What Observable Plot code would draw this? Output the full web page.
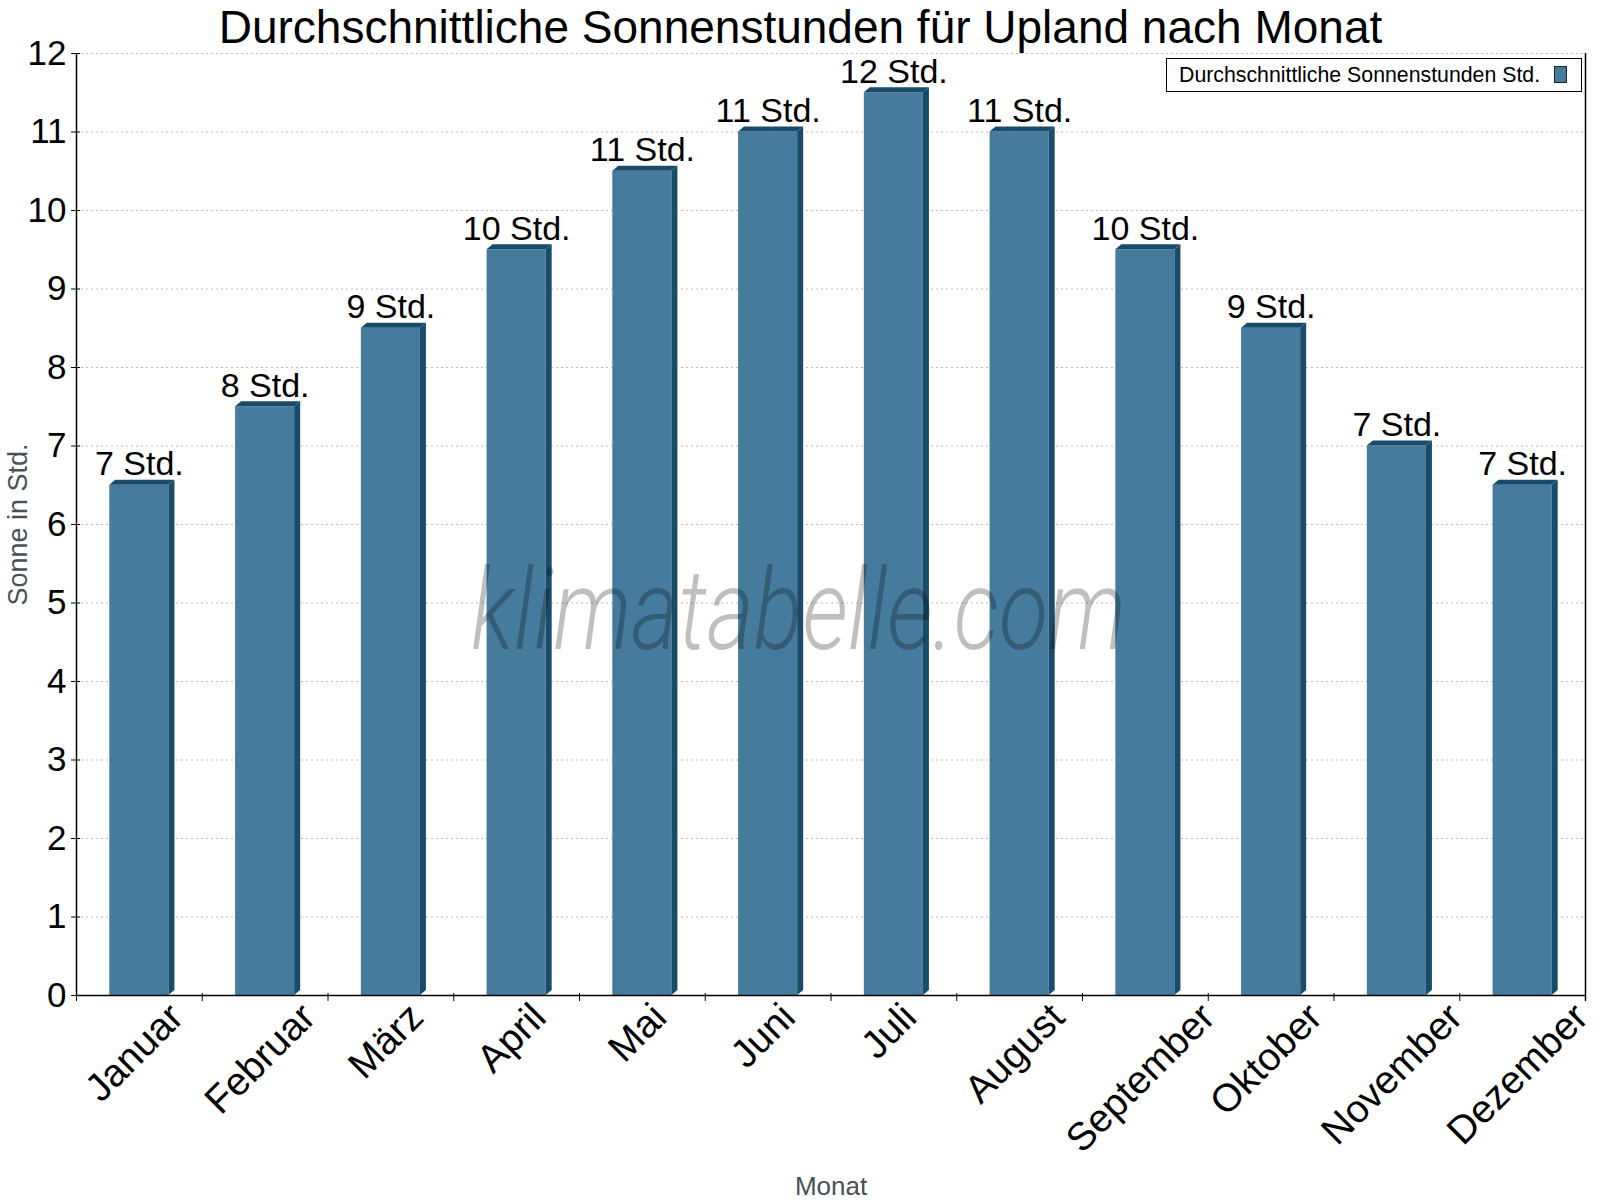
<!DOCTYPE html>
<html>
<head>
<meta charset="utf-8">
<script src="https://cdn.jsdelivr.net/npm/d3@7"></script>
<script src="https://cdn.jsdelivr.net/npm/@observablehq/plot@0.6"></script>
<style>
  body { margin: 0; background: #fff; }
  #wrap { position: relative; width: 1600px; height: 1200px; }
  #legend { position: absolute; left: 1166px; top: 58px; width: 414px; height: 32px;
            border: 1.5px solid #000; background: #fff;
            font-family: "Liberation Sans", Arial, sans-serif; font-size: 21.3px; color: #000; }
  #legend .txt { position: absolute; left: 12px; top: 0; line-height: 32px; white-space: nowrap; }
  #legend .sw { position: absolute; left: 387px; top: 7px; width: 11px; height: 15px;
                border: 1px solid #222; }
</style>
</head>
<body>
<div id="wrap"></div>
<script>
// ---- data ----
const months = ["Januar","Februar","März","April","Mai","Juni","Juli","August","September","Oktober","November","Dezember"];
const sunHours = [6.5, 7.5, 8.5, 9.5, 10.5, 11, 11.5, 11, 9.5, 8.5, 7, 6.5];
const labelHours = [7, 8, 9, 10, 11, 11, 12, 11, 10, 9, 7, 7];
const yTicks = [0,1,2,3,4,5,6,7,8,9,10,11,12];
const titleText = "Durchschnittliche Sonnenstunden für Upland nach Monat";
const yLabelText = "Sonne in Std.";
const xLabelText = "Monat";
const legendText = "Durchschnittliche Sonnenstunden Std.";
const watermarkText = "klimatabelle.com";
const unit = "Std.";

// ---- styles ----
const FRONT = "#467b9d";
const DARK = "#194b6b";
const FONT = "'Liberation Sans', Arial, sans-serif";
const W = 1600, H = 1200, ML = 76, MR = 15, MT = 53, MB = 205;
const step = (W - ML - MR) / months.length;
const frameCx = ML + (W - ML - MR) / 2;
const frameCy = MT + (H - MT - MB) / 2;
const DX3 = 6, DY3 = 5;

const data = months.map((m, i) => ({month: m, value: sunHours[i], label: `${labelHours[i]} ${unit}`}));

// measure text widths for rotated tick labels
const ctx = document.createElement("canvas").getContext("2d");
const XFS = 39;
ctx.font = `${XFS}px 'Liberation Sans'`;

function bars3d(index, scales, values, dims, context, next) {
  const g = next(index, scales, values, dims, context);
  const xs = scales.x;
  const bw = typeof xs.bandwidth === "function" ? xs.bandwidth() : xs.bandwidth;
  const y0 = scales.y(0);
  const sel = d3.select(g);
  for (const i of index) {
    const d = data[i];
    const xl = xs(d.month), xr = xl + bw, yt = scales.y(d.value);
    sel.append("polygon")
      .attr("points", [[xr, yt], [xr + DX3, yt - DY3], [xr + DX3, y0 - DY3], [xr, y0]].map(p => p.join(",")).join(" "))
      .attr("fill", DARK);
    sel.append("polygon")
      .attr("points", [[xl, yt], [xl + DX3, yt - DY3], [xr + DX3, yt - DY3], [xr, yt]].map(p => p.join(",")).join(" "))
      .attr("fill", DARK);
  }
  return g;
}

const xLabelMarks = months.map(m => {
  const w = ctx.measureText(m).width;
  return Plot.text([m], {
    x: d => d, frameAnchor: "bottom", rotate: -45, textAnchor: "middle", lineAnchor: "bottom",
    dx: 4, dy: 24 + 0.3536 * w, fontSize: XFS, fill: "#000"
  });
});

const chart = Plot.plot({
  width: W, height: H,
  marginLeft: ML, marginRight: MR, marginTop: MT, marginBottom: MB,
  style: {fontFamily: FONT, fontSize: "35px", color: "#000", background: "#fff"},
  x: {domain: months, paddingInner: 0.53, paddingOuter: 0.265, round: false, label: null},
  y: {domain: [0, 12], label: null},
  marks: [
    Plot.gridY(yTicks, {stroke: "#bdbdbd", strokeOpacity: 1, strokeDasharray: "2,3"}),
    Plot.barY(data, {x: "month", y: "value", fill: FRONT, render: bars3d}),
    Plot.text(data, {x: "month", y: "value", text: "label", dy: -10, lineAnchor: "bottom", fontSize: 34, fill: "#000"}),
    Plot.text([watermarkText], {frameAnchor: "middle", textAnchor: "middle", dx: 798 - frameCx, dy: 648 - frameCy, lineAnchor: "bottom",
      fontSize: 112, fontStyle: "italic", fontWeight: 300, fontFamily: "Roboto", fill: "#000", fillOpacity: 0.25}),
    Plot.ruleY([0], {stroke: "#000", strokeWidth: 1.5}),
    Plot.ruleX([months[0]], {dx: -step / 2, stroke: "#000", strokeWidth: 1.5}),
    Plot.ruleX([months[months.length - 1]], {dx: step / 2, stroke: "#000", strokeWidth: 1.5, insetBottom: -6}),
    Plot.axisY(yTicks, {tickSize: 9, dx: 4, tickPadding: 5, fontSize: 35, tickFormat: d => String(d), label: null, stroke: "#000"}),
    Plot.axisX({tickSize: 8, dx: -step / 2, dy: -2, tickFormat: () => "", label: null, stroke: "#000"}),
    ...xLabelMarks,
    Plot.text([titleText], {frameAnchor: "top", textAnchor: "middle", dx: W / 2 - frameCx, dy: 42 - MT, lineAnchor: "bottom", fontSize: 46, fill: "#000"}),
    Plot.text([yLabelText], {frameAnchor: "left", textAnchor: "middle", rotate: -90, dx: -50, lineAnchor: "bottom", fontSize: 27, fill: "#4a5058"}),
    Plot.text([xLabelText], {frameAnchor: "bottom", textAnchor: "middle", dy: 199, lineAnchor: "bottom", fontSize: 26, fill: "#4a5058"})
  ]
});

// condense the watermark to the reference's width
for (const t of chart.querySelectorAll("text")) {
  if (t.textContent === watermarkText) {
    t.setAttribute("textLength", "655");
    t.setAttribute("lengthAdjust", "spacingAndGlyphs");
  }
}

const wrap = document.getElementById("wrap");
wrap.appendChild(chart);
const lg = document.createElement("div");
lg.id = "legend";
lg.innerHTML = `<span class="txt"></span><span class="sw"></span>`;
lg.querySelector(".txt").textContent = legendText;
lg.querySelector(".sw").style.background = FRONT;
wrap.appendChild(lg);
</script>
</body>
</html>
